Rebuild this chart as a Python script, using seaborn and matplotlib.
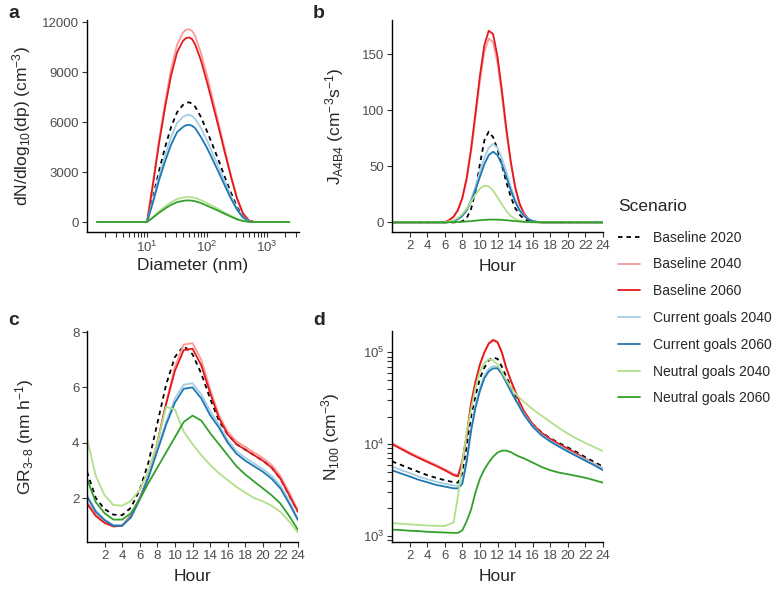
import matplotlib
matplotlib.use('Agg')
import numpy as np
import pandas as pd
import matplotlib.pyplot as plt
import seaborn as sns
from matplotlib.lines import Line2D
from matplotlib.ticker import LogLocator, NullFormatter, FixedLocator

# Scenario names and colours (ggplot Paired-like palette)
scenarios = ['Baseline 2020', 'Baseline 2040', 'Baseline 2060',
             'Current goals 2040', 'Current goals 2060',
             'Neutral goals 2040', 'Neutral goals 2060']
colors = ['#000000', '#FB9A99', '#E31A1C', '#A6CEE3', '#1F78B4', '#B2DF8A', '#33A02C']

# Panel a: size distribution
diameter_nm = [1.47, 10, 12.6, 15.8, 20, 25.1, 31.6, 39.8, 44.7, 50.1, 56.2, 63.1, 79.4,
               100, 126, 158, 200, 251, 316, 398, 501, 631, 2340]
dist_base20 = [0, 0, 1500, 3050, 4500, 5700, 6600, 7050, 7170, 7200, 7120, 6950, 6300, 5450, 4550, 3650, 2650, 1750, 900, 320, 50, 0, 0]
dist_base40 = [0, 0, 2400, 4900, 7200, 9200, 10650, 11400, 11560, 11600, 11500, 11200, 10150, 8800, 7300, 5850, 4300, 2800, 1450, 520, 80, 0, 0]
dist_base60 = [0, 0, 2300, 4700, 6900, 8800, 10200, 10900, 11060, 11100, 11000, 10700, 9700, 8400, 7000, 5600, 4100, 2700, 1400, 500, 80, 0, 0]
dist_cur40 = [0, 0, 1350, 2750, 4000, 5100, 5950, 6320, 6420, 6450, 6380, 6200, 5650, 4900, 4050, 3250, 2400, 1550, 800, 290, 45, 0, 0]
dist_cur60 = [0, 0, 1200, 2500, 3650, 4650, 5400, 5720, 5820, 5850, 5790, 5650, 5100, 4450, 3700, 2950, 2150, 1400, 740, 260, 40, 0, 0]
dist_neu40 = [0, 0, 310, 640, 930, 1190, 1380, 1470, 1495, 1500, 1485, 1450, 1310, 1140, 950, 760, 550, 360, 190, 70, 10, 0, 0]
dist_neu60 = [0, 0, 270, 550, 810, 1030, 1200, 1270, 1295, 1300, 1285, 1250, 1140, 980, 820, 660, 480, 320, 160, 60, 10, 0, 0]

# Panel b: formation rate J_A4B4
hour_b = [0, 6, 6.5, 7, 7.5, 8, 8.5, 9, 9.5, 10, 10.5, 11, 11.5, 12, 12.5,
          13, 13.5, 14, 14.5, 15, 15.5, 16, 16.5, 17, 18, 24]
j_base20 = [0, 0, 0, 0, 0.2, 1, 4, 12, 28, 52, 73, 81, 76, 65, 51, 36, 23, 13, 7, 3, 1.5, 0.5, 0.2, 0, 0, 0]
j_base40 = [0, 0, 2, 5, 11, 21, 38, 63, 94, 126, 152, 164, 161, 142, 113, 81, 53, 31, 16, 8, 3, 1, 0.3, 0, 0, 0]
j_base60 = [0, 0, 2, 5, 11, 22, 40, 66, 98, 131, 158, 171, 168, 148, 118, 84, 55, 32, 17, 8, 3, 1, 0.3, 0, 0, 0]
j_cur40 = [0, 0, 0.5, 1.3, 3.1, 6.4, 12, 20.7, 32, 45, 57.5, 66.6, 70, 66.6, 57.5, 45, 32, 20.7, 12, 6.4, 3.1, 1.3, 0.5, 0.2, 0, 0]
j_cur60 = [0, 0, 0.4, 1.2, 2.8, 5.8, 10.8, 18.6, 28.9, 40.6, 51.8, 60, 63, 60, 51.8, 40.6, 28.9, 18.6, 10.8, 5.8, 2.8, 1.2, 0.5, 0.2, 0, 0]
j_neu40 = [0, 0, 0.9, 1.9, 4, 7.4, 12.3, 18.5, 24.9, 30.2, 32.8, 32.1, 28.3, 22.4, 15.9, 10.2, 5.8, 3, 1.4, 0.6, 0.2, 0, 0, 0, 0, 0]
j_neu60 = [0, 0, 0.1, 0.2, 0.3, 0.5, 0.8, 1.1, 1.5, 1.9, 2.2, 2.4, 2.5, 2.4, 2.2, 1.9, 1.5, 1.1, 0.8, 0.5, 0.3, 0.2, 0.1, 0, 0, 0]

# Panel c: growth rate GR_3-8
hour_c = list(range(25))
gr_base20 = [2.95, 2.0, 1.6, 1.4, 1.38, 1.65, 2.3, 3.3, 4.7, 6.1, 7.1, 7.5, 7.2, 6.5, 5.6, 4.8, 4.3, 3.95, 3.75, 3.55, 3.35, 3.1, 2.7, 2.1, 1.5]
gr_base40 = [1.85, 1.4, 1.12, 1.0, 1.02, 1.38, 2.0, 2.8, 4.0, 5.45, 6.75, 7.55, 7.6, 7.0, 5.95, 5.0, 4.4, 4.05, 3.85, 3.65, 3.45, 3.2, 2.8, 2.2, 1.55]
gr_base60 = [1.8, 1.35, 1.1, 0.97, 1.0, 1.35, 2.0, 2.8, 4.0, 5.4, 6.6, 7.35, 7.4, 6.8, 5.8, 4.9, 4.3, 3.95, 3.75, 3.55, 3.35, 3.1, 2.7, 2.1, 1.5]
gr_cur40 = [2.1, 1.55, 1.22, 1.02, 1.02, 1.32, 1.98, 2.8, 3.78, 4.75, 5.6, 6.1, 6.15, 5.75, 5.15, 4.65, 4.1, 3.7, 3.45, 3.25, 3.05, 2.8, 2.45, 1.9, 1.25]
gr_cur60 = [2.05, 1.5, 1.2, 1.0, 1.0, 1.3, 1.95, 2.75, 3.7, 4.65, 5.45, 5.95, 6.0, 5.6, 5.0, 4.55, 4.0, 3.6, 3.35, 3.15, 2.95, 2.7, 2.35, 1.8, 1.2]
gr_neu40 = [4.15, 2.8, 2.1, 1.75, 1.72, 1.9, 2.3, 3.0, 4.0, 5.3, 5.2, 4.4, 3.95, 3.55, 3.2, 2.9, 2.65, 2.4, 2.2, 2.0, 1.88, 1.72, 1.5, 1.15, 0.75]
gr_neu60 = [2.7, 1.85, 1.45, 1.22, 1.22, 1.45, 1.95, 2.55, 3.1, 3.65, 4.2, 4.75, 4.98, 4.8, 4.35, 3.95, 3.55, 3.15, 2.85, 2.6, 2.35, 2.1, 1.8, 1.35, 0.85]

# Panel d: N100
hour_d = [0, 1, 2, 3, 4, 5, 6, 7, 7.5, 8, 8.5, 9, 9.5, 10, 10.5, 11, 11.5, 12,
          12.5, 13, 13.5, 14, 14.5, 15, 16, 17, 18, 19, 20, 21, 22, 23, 24]
n_base20 = [6500, 5950, 5450, 5000, 4600, 4300, 4050, 3850, 3800, 4800, 9500, 20000, 34000, 52000, 68000, 82000, 88000,
            85000, 70000, 54000, 43000, 34000, 27000, 22000, 16500, 13500, 11600, 10300, 9200, 8200, 7200, 6400, 5700]
n_base40 = [10300, 9150, 8150, 7300, 6600, 5950, 5350, 4750, 4600, 6600, 12600, 28000, 48000, 73000, 99000, 123000, 134000,
            127000, 98000, 67000, 49500, 37500, 28700, 22800, 16400, 13300, 11400, 10000, 8900, 7900, 6900, 6100, 5400]
n_base60 = [10000, 8900, 7900, 7100, 6400, 5800, 5200, 4600, 4450, 6500, 12500, 28000, 48000, 74000, 100000, 125000, 137000,
            130000, 100000, 68000, 50000, 38000, 29000, 23000, 16500, 13300, 11400, 10000, 8900, 7900, 6900, 6100, 5400]
n_cur40 = [5700, 5250, 4850, 4450, 4150, 3900, 3700, 3550, 3500, 4000, 7000, 15000, 27000, 41000, 56000, 66000, 71000,
           70000, 60000, 48500, 39000, 31500, 26000, 21500, 15800, 12700, 10900, 9600, 8500, 7600, 6800, 6100, 5400]
n_cur60 = [5200, 4800, 4450, 4100, 3850, 3600, 3450, 3300, 3300, 3700, 6500, 14000, 25000, 38000, 52000, 62000, 67000,
           67000, 58000, 47000, 38000, 31000, 25500, 21000, 15500, 12500, 10700, 9400, 8300, 7400, 6600, 5900, 5200]
n_neu40 = [1380, 1360, 1340, 1320, 1300, 1290, 1280, 1400, 2700, 6300, 13500, 24000, 41000, 62000, 76000, 84000, 82000,
           74000, 61000, 50000, 42000, 36000, 32000, 29000, 24000, 20500, 17500, 15000, 13000, 11500, 10300, 9300, 8400]
n_neu60 = [1170, 1160, 1140, 1130, 1110, 1100, 1090, 1080, 1080, 1150, 1450, 1950, 3000, 4200, 5300, 6300, 7300,
           8100, 8500, 8500, 8200, 7700, 7300, 7000, 6300, 5650, 5200, 4900, 4700, 4500, 4300, 4050, 3800]


def long_table(x, series):
    frames = []
    for name, vals in zip(scenarios, series):
        frames.append(pd.DataFrame({'x': x, 'y': vals, 'Scenario': name}))
    return pd.concat(frames, ignore_index=True)


sns.set_style('ticks')
plt.rcParams['font.family'] = ['Liberation Sans', 'DejaVu Sans']
plt.rcParams['mathtext.default'] = 'regular'
plt.rcParams['axes.edgecolor'] = 'black'
plt.rcParams['axes.linewidth'] = 1.0

palette = dict(zip(scenarios, colors))
dashes = {s: '' for s in scenarios}
dashes['Baseline 2020'] = (2.5, 2.2)

fig = plt.figure(figsize=(7.79, 5.94), dpi=100)
W, H = 779, 594


def make_ax(left, top, right, bottom):
    return fig.add_axes([left / W, 1 - bottom / H, (right - left) / W, (bottom - top) / H])


ax_a = make_ax(87, 20, 299, 232)
ax_b = make_ax(392, 20, 603, 232)
ax_c = make_ax(87, 331, 298, 542)
ax_d = make_ax(392, 331, 603, 542)

panels = [
    (ax_a, diameter_nm, [dist_base20, dist_base40, dist_base60, dist_cur40, dist_cur60, dist_neu40, dist_neu60]),
    (ax_b, hour_b, [j_base20, j_base40, j_base60, j_cur40, j_cur60, j_neu40, j_neu60]),
    (ax_c, hour_c, [gr_base20, gr_base40, gr_base60, gr_cur40, gr_cur60, gr_neu40, gr_neu60]),
    (ax_d, hour_d, [n_base20, n_base40, n_base60, n_cur40, n_cur60, n_neu40, n_neu60]),
]

for ax, x, series in panels:
    df = long_table(x, series)
    sns.lineplot(data=df, x='x', y='y', hue='Scenario', style='Scenario',
                 hue_order=scenarios, style_order=scenarios, palette=palette,
                 dashes=dashes, estimator=None, sort=False, linewidth=1.3,
                 legend=False, ax=ax)
    sns.despine(ax=ax)
    ax.tick_params(axis='both', which='both', direction='out', length=3.5, width=0.8,
                   color='#333333', labelcolor='#4D4D4D', labelsize=9.5, pad=2)

# Panel a axes
ax_a.set_xscale('log')
ax_a.set_xlim(1.0, 3400)
ax_a.set_ylim(-600, 12150)
ax_a.xaxis.set_major_locator(FixedLocator([10, 100, 1000]))
ax_a.xaxis.set_minor_locator(LogLocator(base=10, subs=np.arange(2, 10)))
ax_a.xaxis.set_minor_formatter(NullFormatter())
ax_a.set_yticks([0, 3000, 6000, 9000, 12000])
ax_a.set_xlabel('Diameter (nm)', fontsize=12.5, labelpad=2)
ax_a.set_ylabel(r'dN/dlog$_{10}$(dp) (cm$^{-3}$)', fontsize=12.5)

# Panel b axes
ax_b.set_xlim(0, 24)
ax_b.set_ylim(-8.6, 180.6)
ax_b.set_yticks([0, 50, 100, 150])
ax_b.set_xticks(range(2, 25, 2))
ax_b.set_xlabel('Hour', fontsize=12.5, labelpad=5.5)
ax_b.set_ylabel(r'J$_{A4B4}$ (cm$^{-3}$s$^{-1}$)', fontsize=12.5)

# Panel c axes
ax_c.set_xlim(0, 24)
ax_c.set_ylim(0.41, 8.04)
ax_c.set_yticks([2, 4, 6, 8])
ax_c.set_xticks(range(2, 25, 2))
ax_c.set_xlabel('Hour', fontsize=12.5, labelpad=5.5)
ax_c.set_ylabel('GR$_{3\u20138}$ (nm h$^{-1}$)', fontsize=12.5)

# Panel d axes
ax_d.set_yscale('log')
ax_d.set_xlim(0, 24)
ax_d.set_ylim(10 ** 2.934, 10 ** 5.233)
ax_d.yaxis.set_major_locator(FixedLocator([1e3, 1e4, 1e5]))
ax_d.yaxis.set_minor_locator(LogLocator(base=10, subs=np.arange(2, 10)))
ax_d.yaxis.set_minor_formatter(NullFormatter())
ax_d.set_xticks(range(2, 25, 2))
ax_d.set_xlabel('Hour', fontsize=12.5, labelpad=5.5)
ax_d.set_ylabel(r'N$_{100}$ (cm$^{-3}$)', fontsize=12.5)

ax_a.yaxis.set_label_coords(-0.255, 0.5)
ax_b.yaxis.set_label_coords(-0.22, 0.5)
ax_c.yaxis.set_label_coords(-0.24, 0.5)
ax_d.yaxis.set_label_coords(-0.235, 0.5)

# Panel letters
for letter, (px, py) in zip('abcd', [(8, 5), (313, 5), (8, 312), (313, 312)]):
    fig.text(px / W, 1 - py / H, letter, fontsize=14, fontweight='bold', va='top', ha='left')

# Legend
handles = [Line2D([0], [0], color=c, lw=1.3) for c in colors]
handles[0].set_linestyle((0, (2.5, 2.2)))
leg = fig.legend(handles, scenarios, title='Scenario', loc='upper left',
                 bbox_to_anchor=(618 / W, 1 - 199 / H), frameon=False,
                 fontsize=10, title_fontsize=12.5, handlelength=1.6,
                 handletextpad=0.9, labelspacing=0.92, borderpad=0, borderaxespad=0,
                 alignment='left')
leg._legend_box.sep = 12

fig.savefig('out.png', dpi=100)
